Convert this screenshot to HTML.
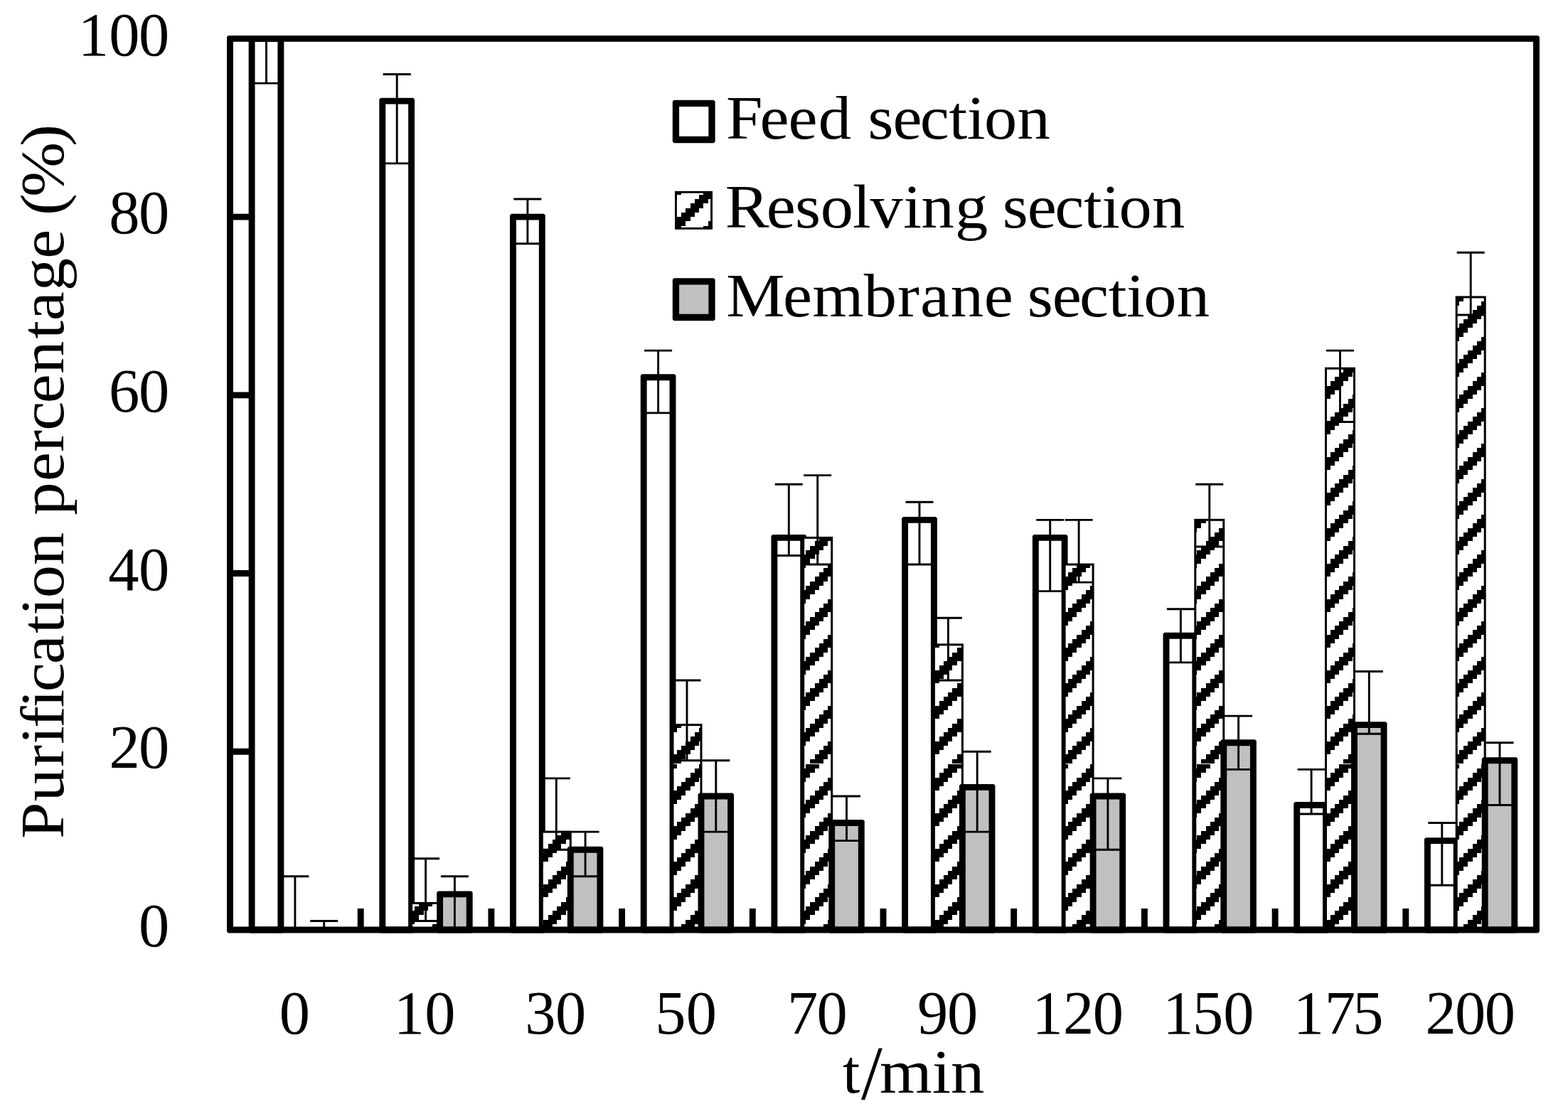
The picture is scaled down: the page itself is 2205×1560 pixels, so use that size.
<!DOCTYPE html>
<html><head><meta charset="utf-8"><title>Purification percentage chart</title>
<style>html,body{margin:0;padding:0;background:#fff;overflow:hidden;}svg{display:block;}text{font-family:"Liberation Serif",serif;fill:#000;}</style></head><body>
<svg width="2205" height="1560" viewBox="0 0 2205 1560">
<defs><pattern id="hat" patternUnits="userSpaceOnUse" x="2" y="0" width="50" height="50"><rect width="50" height="50" fill="#fff"/><path d="M6 0H12V6H6zM12 0H19V6H12zM19 0H25V6H19zM0 6H6V12H0zM6 6H12V12H6zM12 6H19V12H12zM0 12H6V19H0zM6 12H12V19H6zM44 12H50V19H44zM0 19H6V25H0zM37 19H44V25H37zM44 19H50V25H44zM31 25H37V31H31zM37 25H44V31H37zM44 25H50V31H44zM25 31H31V37H25zM31 31H37V37H31zM37 31H44V37H37zM19 37H25V44H19zM25 37H31V44H25zM31 37H37V44H31zM12 44H19V50H12zM19 44H25V50H19zM25 44H31V50H25z" fill="#000" shape-rendering="crispEdges"/></pattern><pattern id="hatU" patternUnits="userSpaceOnUse" x="2" y="-1" width="50" height="50"><rect width="50" height="50" fill="#fff"/><path d="M6 0H12V6H6zM12 0H19V6H12zM19 0H25V6H19zM0 6H6V12H0zM6 6H12V12H6zM12 6H19V12H12zM0 12H6V19H0zM6 12H12V19H6zM44 12H50V19H44zM0 19H6V25H0zM37 19H44V25H37zM44 19H50V25H44zM31 25H37V31H31zM37 25H44V31H37zM44 25H50V31H44zM25 31H31V37H25zM31 31H37V37H31zM37 31H44V37H37zM19 37H25V44H19zM25 37H31V44H25zM31 37H37V44H31zM12 44H19V50H12zM19 44H25V50H19zM25 44H31V50H25z" fill="#000" shape-rendering="crispEdges"/></pattern></defs>
<rect width="2205" height="1560" fill="#fff"/>
<path d="M507.2 1308V1278 M690.9 1308V1278 M874.6 1308V1278 M1058.3 1308V1278 M1242 1308V1278 M1425.7 1308V1278 M1609.4 1308V1278 M1793.1 1308V1278 M1976.8 1308V1278 M323.5 1057.28H353.5 M323.5 806.56H353.5 M323.5 555.84H353.5 M323.5 305.12H353.5" stroke="#000" stroke-width="8.9" fill="none"/>
<rect x="354.1" y="54.4" width="40.8" height="1253.6" fill="#fff"/><path d="M351.65 49.95H397.35L399.35 51.95V1310.45L397.35 1312.45H351.65L349.65 1310.45V51.95ZM358.55 58.85V1303.55H390.45V58.85Z" fill="#000" fill-rule="evenodd"/><rect x="537.8" y="142.15" width="40.8" height="1165.85" fill="#fff"/><path d="M535.35 137.7H581.05L583.05 139.7V1310.45L581.05 1312.45H535.35L533.35 1310.45V139.7ZM542.25 146.6V1303.55H574.15V146.6Z" fill="#000" fill-rule="evenodd"/><rect x="578.6" y="1270.39" width="40" height="37.61" fill="url(#hat)"/><rect x="578.6" y="1270.39" width="40" height="37.61" fill="none" stroke="#000" stroke-width="3.0"/><rect x="618.6" y="1257.86" width="41.6" height="50.14" fill="#c0c0c0"/><path d="M616.15 1253.41H662.65L664.65 1255.41V1310.45L662.65 1312.45H616.15L614.15 1310.45V1255.41ZM623.05 1262.31V1303.55H655.75V1262.31Z" fill="#000" fill-rule="evenodd"/><rect x="721.5" y="305.12" width="40.8" height="1002.88" fill="#fff"/><path d="M719.05 300.67H764.75L766.75 302.67V1310.45L764.75 1312.45H719.05L717.05 1310.45V302.67ZM725.95 309.57V1303.55H757.85V309.57Z" fill="#000" fill-rule="evenodd"/><rect x="762.3" y="1170.1" width="40" height="137.9" fill="url(#hat)"/><rect x="762.3" y="1170.1" width="40" height="137.9" fill="none" stroke="#000" stroke-width="3.0"/><rect x="802.3" y="1195.18" width="41.6" height="112.82" fill="#c0c0c0"/><path d="M799.85 1190.73H846.35L848.35 1192.73V1310.45L846.35 1312.45H799.85L797.85 1310.45V1192.73ZM806.75 1199.63V1303.55H839.45V1199.63Z" fill="#000" fill-rule="evenodd"/><rect x="905.2" y="530.77" width="40.8" height="777.23" fill="#fff"/><path d="M902.75 526.32H948.45L950.45 528.32V1310.45L948.45 1312.45H902.75L900.75 1310.45V528.32ZM909.65 535.22V1303.55H941.55V535.22Z" fill="#000" fill-rule="evenodd"/><rect x="946" y="1019.67" width="40" height="54.33" fill="url(#hatU)"/><rect x="946" y="1074" width="40" height="1" fill="#fff"/><rect x="946" y="1075" width="40" height="233" fill="url(#hat)"/><rect x="946" y="1019.67" width="40" height="288.33" fill="none" stroke="#000" stroke-width="3.0"/><rect x="986" y="1119.96" width="41.6" height="188.04" fill="#c0c0c0"/><path d="M983.55 1115.51H1030.05L1032.05 1117.51V1310.45L1030.05 1312.45H983.55L981.55 1310.45V1117.51ZM990.45 1124.41V1303.55H1023.15V1124.41Z" fill="#000" fill-rule="evenodd"/><rect x="1088.9" y="756.42" width="40.8" height="551.58" fill="#fff"/><path d="M1086.45 751.97H1132.15L1134.15 753.97V1310.45L1132.15 1312.45H1086.45L1084.45 1310.45V753.97ZM1093.35 760.87V1303.55H1125.25V760.87Z" fill="#000" fill-rule="evenodd"/><rect x="1129.7" y="756.42" width="40" height="317.58" fill="url(#hatU)"/><rect x="1129.7" y="1074" width="40" height="1" fill="#fff"/><rect x="1129.7" y="1075" width="40" height="233" fill="url(#hat)"/><rect x="1129.7" y="756.42" width="40" height="551.58" fill="none" stroke="#000" stroke-width="3.0"/><rect x="1169.7" y="1157.57" width="41.6" height="150.43" fill="#c0c0c0"/><path d="M1167.25 1153.12H1213.75L1215.75 1155.12V1310.45L1213.75 1312.45H1167.25L1165.25 1310.45V1155.12ZM1174.15 1162.02V1303.55H1206.85V1162.02Z" fill="#000" fill-rule="evenodd"/><rect x="1272.6" y="731.34" width="40.8" height="576.66" fill="#fff"/><path d="M1270.15 726.89H1315.85L1317.85 728.89V1310.45L1315.85 1312.45H1270.15L1268.15 1310.45V728.89ZM1277.05 735.79V1303.55H1308.95V735.79Z" fill="#000" fill-rule="evenodd"/><rect x="1313.4" y="906.85" width="40" height="167.15" fill="url(#hatU)"/><rect x="1313.4" y="1074" width="40" height="1" fill="#fff"/><rect x="1313.4" y="1075" width="40" height="233" fill="url(#hat)"/><rect x="1313.4" y="906.85" width="40" height="401.15" fill="none" stroke="#000" stroke-width="3.0"/><rect x="1353.4" y="1107.42" width="41.6" height="200.58" fill="#c0c0c0"/><path d="M1350.95 1102.97H1397.45L1399.45 1104.97V1310.45L1397.45 1312.45H1350.95L1348.95 1310.45V1104.97ZM1357.85 1111.87V1303.55H1390.55V1111.87Z" fill="#000" fill-rule="evenodd"/><rect x="1456.3" y="756.42" width="40.8" height="551.58" fill="#fff"/><path d="M1453.85 751.97H1499.55L1501.55 753.97V1310.45L1499.55 1312.45H1453.85L1451.85 1310.45V753.97ZM1460.75 760.87V1303.55H1492.65V760.87Z" fill="#000" fill-rule="evenodd"/><rect x="1497.1" y="794.02" width="40" height="279.98" fill="url(#hatU)"/><rect x="1497.1" y="1074" width="40" height="1" fill="#fff"/><rect x="1497.1" y="1075" width="40" height="233" fill="url(#hat)"/><rect x="1497.1" y="794.02" width="40" height="513.98" fill="none" stroke="#000" stroke-width="3.0"/><rect x="1537.1" y="1119.96" width="41.6" height="188.04" fill="#c0c0c0"/><path d="M1534.65 1115.51H1581.15L1583.15 1117.51V1310.45L1581.15 1312.45H1534.65L1532.65 1310.45V1117.51ZM1541.55 1124.41V1303.55H1574.25V1124.41Z" fill="#000" fill-rule="evenodd"/><rect x="1640" y="894.31" width="40.8" height="413.69" fill="#fff"/><path d="M1637.55 889.86H1683.25L1685.25 891.86V1310.45L1683.25 1312.45H1637.55L1635.55 1310.45V891.86ZM1644.45 898.76V1303.55H1676.35V898.76Z" fill="#000" fill-rule="evenodd"/><rect x="1680.8" y="731.34" width="40" height="342.66" fill="url(#hatU)"/><rect x="1680.8" y="1074" width="40" height="1" fill="#fff"/><rect x="1680.8" y="1075" width="40" height="233" fill="url(#hat)"/><rect x="1680.8" y="731.34" width="40" height="576.66" fill="none" stroke="#000" stroke-width="3.0"/><rect x="1720.8" y="1044.74" width="41.6" height="263.26" fill="#c0c0c0"/><path d="M1718.35 1040.29H1764.85L1766.85 1042.29V1310.45L1764.85 1312.45H1718.35L1716.35 1310.45V1042.29ZM1725.25 1049.19V1303.55H1757.95V1049.19Z" fill="#000" fill-rule="evenodd"/><rect x="1823.7" y="1132.5" width="40.8" height="175.5" fill="#fff"/><path d="M1821.25 1128.05H1866.95L1868.95 1130.05V1310.45L1866.95 1312.45H1821.25L1819.25 1310.45V1130.05ZM1828.15 1136.95V1303.55H1860.05V1136.95Z" fill="#000" fill-rule="evenodd"/><rect x="1864.5" y="518.23" width="40" height="555.77" fill="url(#hatU)"/><rect x="1864.5" y="1074" width="40" height="1" fill="#fff"/><rect x="1864.5" y="1075" width="40" height="233" fill="url(#hat)"/><rect x="1864.5" y="518.23" width="40" height="789.77" fill="none" stroke="#000" stroke-width="3.0"/><rect x="1904.5" y="1019.67" width="41.6" height="288.33" fill="#c0c0c0"/><path d="M1902.05 1015.22H1948.55L1950.55 1017.22V1310.45L1948.55 1312.45H1902.05L1900.05 1310.45V1017.22ZM1908.95 1024.12V1303.55H1941.65V1024.12Z" fill="#000" fill-rule="evenodd"/><rect x="2007.4" y="1182.64" width="40.8" height="125.36" fill="#fff"/><path d="M2004.95 1178.19H2050.65L2052.65 1180.19V1310.45L2050.65 1312.45H2004.95L2002.95 1310.45V1180.19ZM2011.85 1187.09V1303.55H2043.75V1187.09Z" fill="#000" fill-rule="evenodd"/><rect x="2048.2" y="417.94" width="40" height="656.06" fill="url(#hatU)"/><rect x="2048.2" y="1074" width="40" height="1" fill="#fff"/><rect x="2048.2" y="1075" width="40" height="233" fill="url(#hat)"/><rect x="2048.2" y="417.94" width="40" height="890.06" fill="none" stroke="#000" stroke-width="3.0"/><rect x="2088.2" y="1069.82" width="41.6" height="238.18" fill="#c0c0c0"/><path d="M2085.75 1065.37H2132.25L2134.25 1067.37V1310.45L2132.25 1312.45H2085.75L2083.75 1310.45V1067.37ZM2092.65 1074.27V1303.55H2125.35V1074.27Z" fill="#000" fill-rule="evenodd"/>
<path d="M374.5 54.4V54.4 M374.5 54.4V117.08 M355 117.08H394 M414.9 1308V1232.78 M395.4 1232.78H434.4 M455.7 1308V1295.46 M436.2 1295.46H475.2 M558.2 142.15V104.54 M538.7 104.54H577.7 M558.2 142.15V229.9 M538.7 229.9H577.7 M598.6 1270.39V1207.71 M579.1 1207.71H618.1 M598.6 1270.39V1295.46 M579.1 1295.46H618.1 M639.4 1257.86V1232.78 M619.9 1232.78H658.9 M639.4 1257.86V1308 M741.9 305.12V280.05 M722.4 280.05H761.4 M741.9 305.12V342.73 M722.4 342.73H761.4 M782.3 1170.1V1094.89 M762.8 1094.89H801.8 M782.3 1170.1V1195.18 M762.8 1195.18H801.8 M823.1 1195.18V1170.1 M803.6 1170.1H842.6 M823.1 1195.18V1232.78 M803.6 1232.78H842.6 M925.6 530.77V493.16 M906.1 493.16H945.1 M925.6 530.77V580.91 M906.1 580.91H945.1 M966 1019.67V956.99 M946.5 956.99H985.5 M966 1019.67V1069.82 M946.5 1069.82H985.5 M1006.8 1119.96V1069.82 M987.3 1069.82H1026.3 M1006.8 1119.96V1170.1 M987.3 1170.1H1026.3 M1109.3 756.42V681.2 M1089.8 681.2H1128.8 M1109.3 756.42V781.49 M1089.8 781.49H1128.8 M1149.7 756.42V668.66 M1130.2 668.66H1169.2 M1149.7 756.42V794.02 M1130.2 794.02H1169.2 M1190.5 1157.57V1119.96 M1171 1119.96H1210 M1190.5 1157.57V1182.64 M1171 1182.64H1210 M1293 731.34V706.27 M1273.5 706.27H1312.5 M1293 731.34V794.02 M1273.5 794.02H1312.5 M1333.4 906.85V869.24 M1313.9 869.24H1352.9 M1333.4 906.85V956.99 M1313.9 956.99H1352.9 M1374.2 1107.42V1057.28 M1354.7 1057.28H1393.7 M1374.2 1107.42V1170.1 M1354.7 1170.1H1393.7 M1476.7 756.42V731.34 M1457.2 731.34H1496.2 M1476.7 756.42V831.63 M1457.2 831.63H1496.2 M1517.1 794.02V731.34 M1497.6 731.34H1536.6 M1517.1 794.02V819.1 M1497.6 819.1H1536.6 M1557.9 1119.96V1094.89 M1538.4 1094.89H1577.4 M1557.9 1119.96V1195.18 M1538.4 1195.18H1577.4 M1660.4 894.31V856.7 M1640.9 856.7H1679.9 M1660.4 894.31V931.92 M1640.9 931.92H1679.9 M1700.8 731.34V681.2 M1681.3 681.2H1720.3 M1700.8 731.34V768.95 M1681.3 768.95H1720.3 M1741.6 1044.74V1007.14 M1722.1 1007.14H1761.1 M1741.6 1044.74V1082.35 M1722.1 1082.35H1761.1 M1844.1 1132.5V1082.35 M1824.6 1082.35H1863.6 M1844.1 1132.5V1145.03 M1824.6 1145.03H1863.6 M1884.5 518.23V493.16 M1865 493.16H1904 M1884.5 518.23V593.45 M1865 593.45H1904 M1925.3 1019.67V944.46 M1905.8 944.46H1944.8 M1925.3 1019.67V1032.21 M1905.8 1032.21H1944.8 M2027.8 1182.64V1157.57 M2008.3 1157.57H2047.3 M2027.8 1182.64V1245.32 M2008.3 1245.32H2047.3 M2068.2 417.94V355.26 M2048.7 355.26H2087.7 M2068.2 417.94V443.02 M2048.7 443.02H2087.7 M2109 1069.82V1044.74 M2089.5 1044.74H2128.5 M2109 1069.82V1132.5 M2089.5 1132.5H2128.5" stroke="#000" stroke-width="2.9" fill="none"/>
<path d="M321.05 49.95H2162.95L2164.95 51.95V1310.45L2162.95 1312.45H321.05L319.05 1310.45V51.95ZM327.95 58.85V1303.55H2156.05V58.85Z" fill="#000" fill-rule="evenodd"/>
<rect x="950.45" y="145.45" width="50.55" height="51.05" fill="#fff"/><path d="M947.8 140.8H1003.65L1005.65 142.8V199.15L1003.65 201.15H947.8L945.8 199.15V142.8ZM955.1 150.1V191.85H996.35V150.1Z" fill="#000" fill-rule="evenodd"/>
<rect x="950.45" y="270.25" width="50.1" height="51.1" fill="url(#hatU)" stroke="#000" stroke-width="2.9"/>
<rect x="950.45" y="395.85" width="50.55" height="50.65" fill="#c0c0c0"/><path d="M947.8 391.2H1003.65L1005.65 393.2V449.15L1003.65 451.15H947.8L945.8 449.15V393.2ZM955.1 400.5V441.85H996.35V400.5Z" fill="#000" fill-rule="evenodd"/>
<text transform="translate(1023.2 194.8) scale(1.07 1)" x="-2.01 42.37 79.67 119.16 165.49 184.31 217.05 252.87 290.96 314.52 337.24 380.67" y="0" font-size="86.5">Feed section</text>
<text transform="translate(1023.2 319.8) scale(1.07 1)" x="-3.12 51.09 88.68 121.98 164.22 187.13 230.8 254.43 298.98 342.51 361.33 394.07 429.88 467.97 491.54 514.26 557.69" y="0" font-size="86.5">Resolving section</text>
<text transform="translate(1023.2 444.8) scale(1.07 1)" x="-1.75 72.74 111.56 178.96 223.3 253.03 293.06 336.91 375.14 393.96 426.7 462.52 500.61 524.17 546.89 590.32" y="0" font-size="86.5">Membrane section</text>
<text x="194.99" y="1331.2" font-size="86.5">0</text>
<text x="153.39 194.99" y="1080.48" font-size="86.5">20</text>
<text x="152.32 194.99" y="829.76" font-size="86.5">40</text>
<text x="153 194.99" y="579.04" font-size="86.5">60</text>
<text x="153.32 194.99" y="328.32" font-size="86.5">80</text>
<text x="109.79 153.32 194.99" y="77.6" font-size="86.5">100</text>
<text x="392.77" y="1453.7" font-size="86.5">0</text>
<text x="553.77 597.31" y="1453.7" font-size="86.5">10</text>
<text x="738.25 781.01" y="1453.7" font-size="86.5">30</text>
<text x="921.3 964.71" y="1453.7" font-size="86.5">50</text>
<text x="1107.09 1148.41" y="1453.7" font-size="86.5">70</text>
<text x="1290.11 1332.11" y="1453.7" font-size="86.5">90</text>
<text x="1451.44 1495.04 1536.64" y="1453.7" font-size="86.5">120</text>
<text x="1635.14 1676.93 1720.34" y="1453.7" font-size="86.5">150</text>
<text x="1818.84 1862.73 1902.3" y="1453.7" font-size="86.5">175</text>
<text x="2004.48 2046.07 2087.74" y="1453.7" font-size="86.5">200</text>
<text y="1536.9" font-size="87.5"><tspan x="1185">t</tspan><tspan x="1211" dy="8.7" font-size="107.3">/</tspan><tspan x="1237.1" dy="-8.7" textLength="147.4" lengthAdjust="spacingAndGlyphs">min</tspan></text>
<text transform="translate(89 1179.8) rotate(-90) scale(1.07 1)" x="-0.13 48.91 94.49 124.03 145.55 172.32 192.98 229.44 270.01 293.57 316.29 359.72 404.5 425.22 469.85 508.57 536.42 572.49 611.27 657.14 680.9 720.15 762.75 800.98 819.44 843.83 910.31" y="0" font-size="86.5">Purification percentage (%)</text>
</svg></body></html>
